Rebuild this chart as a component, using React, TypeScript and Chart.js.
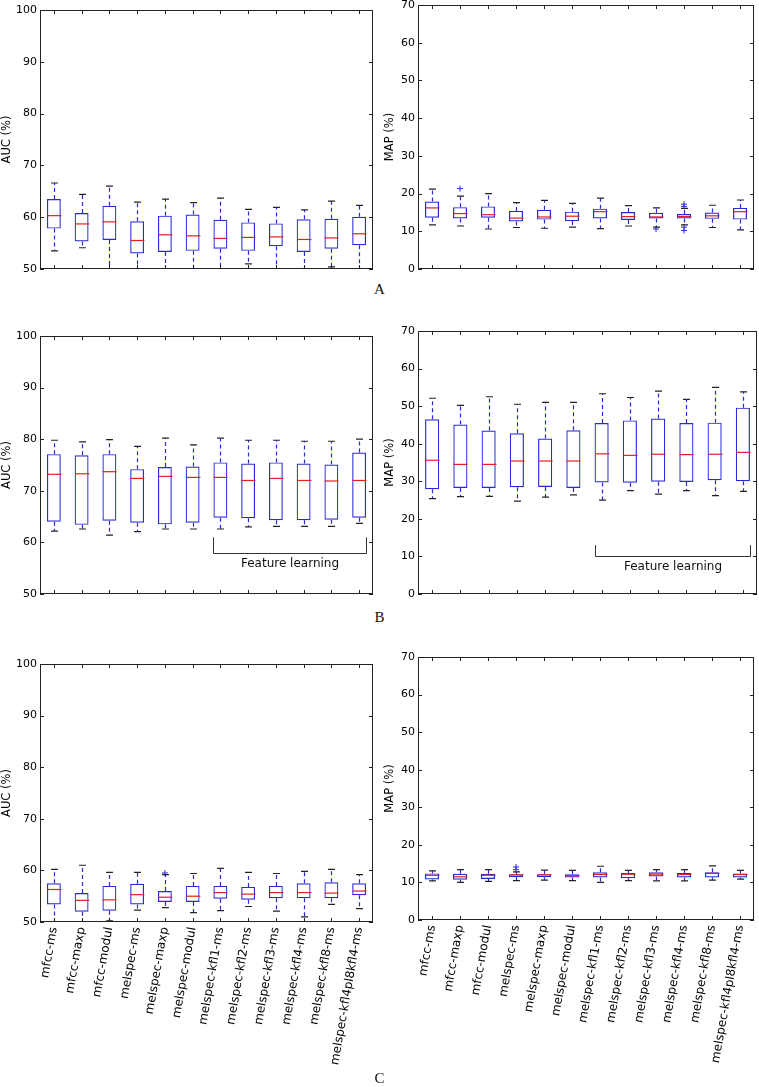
import React, { useEffect, useRef } from 'react';
import { Chart, registerables } from 'chart.js';

Chart.register(...registerables);

// ---------------- data ----------------
const CATEGORIES = [
  'mfcc-ms', 'mfcc-maxp', 'mfcc-modul', 'melspec-ms', 'melspec-maxp', 'melspec-modul',
  'melspec-kfl1-ms', 'melspec-kfl2-ms', 'melspec-kfl3-ms', 'melspec-kfl4-ms', 'melspec-kfl8-ms',
  'melspec-kfl4pl8kfl4-ms',
];

const AUC_TICK_MIN = 50;
const AUC_TICK_MAX = 100;
const MAP_TICK_MIN = 0;
const MAP_TICK_MAX = 70;
const TICK_STEP = 10;

// Panel A – AUC
const A_AUC_LOW = [53.5, 54.1, 49.0, 50.1, 49.0, 49.0, 49.0, 51.0, 50.1, 49.0, 50.4, 49.0];
const A_AUC_Q1 = [57.8, 55.3, 55.6, 53.0, 53.3, 53.5, 53.9, 53.5, 54.4, 53.3, 53.9, 54.6];
const A_AUC_MED = [60.3, 58.7, 59.1, 55.5, 56.6, 56.4, 55.9, 56.1, 56.2, 55.7, 56.0, 56.8];
const A_AUC_Q3 = [63.5, 60.8, 62.2, 59.2, 60.3, 60.5, 59.5, 59.0, 58.8, 59.6, 59.7, 60.1];
const A_AUC_HIGH = [66.6, 64.4, 66.0, 62.9, 63.5, 62.8, 63.7, 61.5, 61.9, 61.4, 63.1, 62.3];
const A_AUC_FLIER_IDX: number[] = [];
const A_AUC_FLIER_VAL: number[] = [];

// Panel A – MAP
const A_MAP_LOW = [11.7, 11.4, 10.6, 11.0, 10.8, 11.1, 10.7, 11.4, 11.1, 11.7, 11.0, 10.4];
const A_MAP_Q1 = [13.6, 13.4, 13.6, 12.6, 13.1, 12.7, 13.4, 13.0, 13.4, 13.4, 13.3, 13.1];
const A_MAP_MED = [16.2, 14.7, 14.4, 13.5, 13.8, 14.0, 15.2, 13.9, 13.8, 13.9, 14.1, 15.2];
const A_MAP_Q3 = [17.9, 16.4, 16.6, 15.4, 15.7, 15.2, 16.0, 15.1, 14.9, 14.6, 15.0, 16.2];
const A_MAP_HIGH = [21.2, 19.3, 20.0, 17.6, 18.2, 17.4, 18.8, 16.8, 16.2, 16.1, 16.9, 18.3];
const A_MAP_FLIER_IDX = [1, 8, 9, 9, 9, 9];
const A_MAP_FLIER_VAL = [21.3, 10.6, 17.2, 16.6, 11.1, 10.2];

// Panel B – AUC
const B_AUC_LOW = [62.2, 62.6, 61.4, 62.1, 62.6, 62.6, 62.6, 63.0, 63.1, 63.1, 63.1, 63.7];
const B_AUC_Q1 = [64.0, 63.4, 64.2, 63.8, 63.5, 63.8, 64.8, 64.7, 64.3, 64.3, 64.4, 64.8];
const B_AUC_MED = [73.2, 73.3, 73.7, 72.4, 72.8, 72.6, 72.6, 72.0, 72.4, 72.0, 71.9, 72.0];
const B_AUC_Q3 = [77.1, 76.9, 77.1, 74.2, 74.6, 74.7, 75.5, 75.3, 75.5, 75.3, 75.1, 77.4];
const B_AUC_HIGH = [79.8, 79.5, 79.9, 78.6, 80.2, 78.9, 80.2, 79.8, 79.8, 79.6, 79.6, 80.0];
const B_AUC_FLIER_IDX: number[] = [];
const B_AUC_FLIER_VAL: number[] = [];

// Panel B – MAP
const B_MAP_LOW = [25.4, 25.9, 26.0, 24.7, 25.8, 26.4, 25.0, 27.5, 26.6, 27.5, 26.2, 27.3];
const B_MAP_Q1 = [27.9, 28.2, 28.2, 28.4, 28.5, 28.2, 29.7, 29.6, 29.9, 29.8, 30.3, 30.0];
const B_MAP_MED = [35.6, 34.5, 34.5, 35.4, 35.4, 35.4, 37.3, 36.9, 37.2, 37.1, 37.2, 37.7];
const B_MAP_Q3 = [46.5, 45.1, 43.5, 42.8, 41.4, 43.6, 45.5, 46.2, 46.7, 45.5, 45.6, 49.6];
const B_MAP_HIGH = [52.1, 50.2, 52.5, 50.5, 51.0, 51.0, 53.3, 52.3, 54.0, 51.8, 55.0, 53.8];
const B_MAP_FLIER_IDX: number[] = [];
const B_MAP_FLIER_VAL: number[] = [];

// Panel C – AUC
const C_AUC_LOW = [49.0, 49.0, 50.2, 52.3, 52.8, 51.8, 52.2, 53.0, 52.1, 51.0, 53.4, 52.6];
const C_AUC_Q1 = [53.4, 52.0, 52.2, 53.4, 53.9, 53.9, 54.5, 54.3, 54.6, 54.6, 54.6, 55.2];
const C_AUC_MED = [56.3, 54.2, 54.3, 55.3, 54.8, 55.0, 55.7, 55.4, 55.7, 55.7, 55.6, 56.0];
const C_AUC_Q3 = [57.5, 55.6, 57.0, 57.4, 56.0, 57.0, 57.0, 56.8, 57.0, 57.5, 57.7, 57.5];
const C_AUC_HIGH = [60.2, 61.0, 59.6, 59.6, 59.2, 59.4, 60.4, 59.6, 59.4, 59.8, 60.2, 59.2];
const C_AUC_FLIER_IDX = [4];
const C_AUC_FLIER_VAL = [59.5];

// Panel C – MAP
const C_MAP_LOW = [10.4, 10.0, 10.3, 10.5, 10.6, 10.5, 10.0, 10.5, 10.4, 10.4, 10.6, 10.9];
const C_MAP_Q1 = [10.8, 10.7, 10.9, 11.4, 11.4, 11.3, 11.3, 11.1, 11.6, 11.3, 11.3, 11.3];
const C_MAP_MED = [11.9, 11.5, 11.9, 12.0, 12.0, 11.8, 12.1, 12.2, 12.2, 12.1, 12.4, 12.1];
const C_MAP_Q3 = [12.4, 12.3, 12.3, 12.2, 12.2, 12.2, 12.7, 12.5, 12.7, 12.5, 12.7, 12.4];
const C_MAP_HIGH = [13.1, 13.4, 13.4, 12.8, 13.3, 13.2, 14.3, 13.2, 13.4, 13.4, 14.4, 13.2];
const C_MAP_FLIER_IDX = [3, 3];
const C_MAP_FLIER_VAL = [13.4, 14.1];

// "Feature learning" bracket (category index units / value units)
const BRACKET_TEXT = 'Feature learning';
const BRACKET_FROM = 5.75;
const BRACKET_TO = 11.25;
const AUC_BRACKET_Y = [61, 58, 55.8]; // top of ends, base line, text centre
const MAP_BRACKET_Y = [13, 10, 7.2];

// ---------------- styling ----------------
const BOX_COLOR = '#2a2ad8';
const MEDIAN_COLOR = '#e02020';
const CAP_COLOR = '#222222';
const FONT_FAMILY = '"DejaVu Sans", sans-serif';

type Stats = {
  low: number[]; q1: number[]; med: number[]; q3: number[]; high: number[];
  flierIdx: number[]; flierVal: number[];
};
type Rect = { left: number; top: number; w: number; h: number };
type Area = { l: number; t: number; r: number; b: number };

interface PanelProps {
  stats: Stats;
  yMin: number;
  yMax: number;
  yTitle: string;
  showLabels: boolean;
  bracketY?: number[];
  box: Rect;
  area: Area;
  titlePad: number;
}

function BoxPanel(props: PanelProps) {
  const ref = useRef<HTMLCanvasElement>(null);
  const { stats, yMin, yMax, yTitle, showLabels, bracketY, box, area, titlePad } = props;

  useEffect(() => {
    const canvas = ref.current;
    if (!canvas) return;
    const padTop = area.t - box.top;
    const padRight = box.left + box.w - area.r;
    const yAxisW = area.l - box.left;
    const xAxisH = box.top + box.h - area.b;

    const extras = {
      id: 'boxExtras',
      afterDatasetsDraw(chart: any) {
        const ctx = chart.ctx as CanvasRenderingContext2D;
        const ys = chart.scales.y;
        const meta = chart.getDatasetMeta(0);
        const ca = chart.chartArea;
        ctx.save();
        ctx.beginPath();
        ctx.rect(ca.left, ca.top, ca.right - ca.left, ca.bottom - ca.top);
        ctx.clip();
        ctx.lineWidth = 1.2;
        for (let i = 0; i < stats.q1.length; i++) {
          const bar = meta.data[i];
          const x = Math.round(bar.x) + 0.5;
          const w = bar.width;
          const pHigh = ys.getPixelForValue(stats.high[i]);
          const pLow = ys.getPixelForValue(stats.low[i]);
          const pQ1 = ys.getPixelForValue(stats.q1[i]);
          const pQ3 = ys.getPixelForValue(stats.q3[i]);
          const pMed = ys.getPixelForValue(stats.med[i]);
          // whiskers
          ctx.setLineDash([4, 3]);
          ctx.strokeStyle = BOX_COLOR;
          ctx.beginPath();
          ctx.moveTo(x, pQ3);
          ctx.lineTo(x, pHigh);
          ctx.moveTo(x, pQ1);
          ctx.lineTo(x, pLow);
          ctx.stroke();
          // caps
          ctx.setLineDash([]);
          ctx.strokeStyle = CAP_COLOR;
          ctx.beginPath();
          ctx.moveTo(x - w / 4, pHigh);
          ctx.lineTo(x + w / 4, pHigh);
          ctx.moveTo(x - w / 4, pLow);
          ctx.lineTo(x + w / 4, pLow);
          ctx.stroke();
          // median
          ctx.strokeStyle = MEDIAN_COLOR;
          ctx.beginPath();
          ctx.moveTo(x - w / 2, pMed);
          ctx.lineTo(x + w / 2, pMed);
          ctx.stroke();
        }
        ctx.restore();
      },
      afterDraw(chart: any) {
        const ctx = chart.ctx as CanvasRenderingContext2D;
        const xs = chart.scales.x;
        const ys = chart.scales.y;
        const ca = chart.chartArea;
        ctx.save();
        ctx.lineWidth = 1;
        ctx.strokeStyle = '#222';
        ctx.strokeRect(ca.left + 0.5, ca.top + 0.5, ca.right - ca.left - 1, ca.bottom - ca.top - 1);
        ctx.beginPath();
        for (const t of ys.ticks) {
          const py = Math.round(ys.getPixelForValue(t.value)) + 0.5;
          ctx.moveTo(ca.left, py);
          ctx.lineTo(ca.left + 4, py);
          ctx.moveTo(ca.right - 4, py);
          ctx.lineTo(ca.right, py);
        }
        for (let i = 0; i < CATEGORIES.length; i++) {
          const px = Math.round(xs.getPixelForValue(i)) + 0.5;
          ctx.moveTo(px, ca.bottom);
          ctx.lineTo(px, ca.bottom - 4);
          ctx.moveTo(px, ca.top);
          ctx.lineTo(px, ca.top + 4);
        }
        ctx.stroke();
        if (bracketY) {
          const x1 = Math.round(xs.getPixelForValue(BRACKET_FROM)) + 0.5;
          const x2 = Math.round(xs.getPixelForValue(BRACKET_TO)) + 0.5;
          const yTop = ys.getPixelForValue(bracketY[0]);
          const yBase = Math.round(ys.getPixelForValue(bracketY[1])) + 0.5;
          const yText = ys.getPixelForValue(bracketY[2]);
          ctx.strokeStyle = '#333';
          ctx.beginPath();
          ctx.moveTo(x1, yTop);
          ctx.lineTo(x1, yBase);
          ctx.lineTo(x2, yBase);
          ctx.lineTo(x2, yTop);
          ctx.stroke();
          ctx.fillStyle = '#111';
          ctx.font = `12px ${FONT_FAMILY}`;
          ctx.textAlign = 'center';
          ctx.textBaseline = 'middle';
          ctx.fillText(BRACKET_TEXT, (x1 + x2) / 2, yText);
        }
        ctx.restore();
      },
    };

    const font = { family: FONT_FAMILY, size: 11 };
    const labelFont = { family: FONT_FAMILY, size: 12 };
    const chart = new Chart(canvas, {
      type: 'bar',
      data: {
        labels: CATEGORIES,
        datasets: [
          {
            type: 'bar',
            data: stats.q1.map((v, i) => [v, stats.q3[i]]) as any,
            backgroundColor: 'rgba(255,255,255,0)',
            borderColor: BOX_COLOR,
            borderWidth: 1.2,
            borderSkipped: false,
            barPercentage: 0.5,
            categoryPercentage: 1,
            order: 2,
          },
          {
            type: 'line',
            data: stats.flierIdx.map((c, k) => ({ x: CATEGORIES[c], y: stats.flierVal[k] })) as any,
            showLine: false,
            pointStyle: 'cross',
            pointRadius: 3,
            borderColor: BOX_COLOR,
            backgroundColor: BOX_COLOR,
            borderWidth: 1,
            order: 1,
          } as any,
        ],
      },
      options: {
        responsive: false,
        animation: false,
        events: [],
        layout: { padding: { left: 0, top: padTop, right: padRight, bottom: 0 } },
        plugins: { legend: { display: false }, tooltip: { enabled: false } },
        scales: {
          x: {
            type: 'category',
            offset: true,
            grid: { display: false, drawTicks: false },
            border: { display: false },
            ticks: {
              display: showLabels,
              autoSkip: false,
              minRotation: 80,
              maxRotation: 80,
              padding: 4,
              color: '#000',
              font: labelFont,
            },
            afterFit(s: any) {
              s.height = xAxisH;
              s.paddingLeft = 0;
              s.paddingRight = 0;
            },
          },
          y: {
            min: yMin,
            max: yMax,
            grid: { display: false, drawTicks: false },
            border: { display: false },
            ticks: { stepSize: TICK_STEP, padding: 3, color: '#000', font },
            title: {
              display: true,
              text: yTitle,
              color: '#000',
              font: { family: FONT_FAMILY, size: 11.5 },
              padding: { top: titlePad, bottom: 0 },
            },
            afterFit(s: any) {
              s.width = yAxisW;
              s.paddingTop = 0;
              s.paddingBottom = 0;
            },
          },
        },
      } as any,
      plugins: [extras],
    });
    return () => chart.destroy();
  }, []);

  return (
    <canvas
      ref={ref}
      width={box.w}
      height={box.h}
      style={{ position: 'absolute', left: box.left, top: box.top, width: box.w, height: box.h }}
    />
  );
}

const mk = (low: number[], q1: number[], med: number[], q3: number[], high: number[], fi: number[], fv: number[]): Stats =>
  ({ low, q1, med, q3, high, flierIdx: fi, flierVal: fv });

const labelStyle = (top: number): React.CSSProperties => ({
  position: 'absolute',
  left: 0,
  width: 759,
  top,
  height: 18,
  lineHeight: '18px',
  textAlign: 'center',
  fontFamily: '"Liberation Serif", serif',
  fontSize: 15,
  color: '#111',
});

export default function App() {
  return (
    <div style={{ position: 'absolute', left: 0, top: 0, width: 759, height: 1087, background: '#fff', overflow: 'hidden' }}>
      <BoxPanel
        stats={mk(A_AUC_LOW, A_AUC_Q1, A_AUC_MED, A_AUC_Q3, A_AUC_HIGH, A_AUC_FLIER_IDX, A_AUC_FLIER_VAL)}
        yMin={AUC_TICK_MIN} yMax={AUC_TICK_MAX} yTitle="AUC (%)" showLabels={false}
        box={{ left: 0, top: 0, w: 380, h: 280 }} area={{ l: 40, t: 10, r: 373, b: 269 }} titlePad={0}
      />
      <BoxPanel
        stats={mk(A_MAP_LOW, A_MAP_Q1, A_MAP_MED, A_MAP_Q3, A_MAP_HIGH, A_MAP_FLIER_IDX, A_MAP_FLIER_VAL)}
        yMin={MAP_TICK_MIN} yMax={MAP_TICK_MAX} yTitle="MAP (%)" showLabels={false}
        box={{ left: 380, top: 0, w: 379, h: 280 }} area={{ l: 418, t: 5, r: 757, b: 269 }} titlePad={3}
      />
      <div style={labelStyle(280)}>A</div>
      <BoxPanel
        stats={mk(B_AUC_LOW, B_AUC_Q1, B_AUC_MED, B_AUC_Q3, B_AUC_HIGH, B_AUC_FLIER_IDX, B_AUC_FLIER_VAL)}
        yMin={AUC_TICK_MIN} yMax={AUC_TICK_MAX} yTitle="AUC (%)" showLabels={false} bracketY={AUC_BRACKET_Y}
        box={{ left: 0, top: 300, w: 380, h: 300 }} area={{ l: 40, t: 336, r: 373, b: 594 }} titlePad={0}
      />
      <BoxPanel
        stats={mk(B_MAP_LOW, B_MAP_Q1, B_MAP_MED, B_MAP_Q3, B_MAP_HIGH, B_MAP_FLIER_IDX, B_MAP_FLIER_VAL)}
        yMin={MAP_TICK_MIN} yMax={MAP_TICK_MAX} yTitle="MAP (%)" showLabels={false} bracketY={MAP_BRACKET_Y}
        box={{ left: 380, top: 300, w: 379, h: 300 }} area={{ l: 418, t: 331, r: 757, b: 594 }} titlePad={3}
      />
      <div style={labelStyle(608)}>B</div>
      <BoxPanel
        stats={mk(C_AUC_LOW, C_AUC_Q1, C_AUC_MED, C_AUC_Q3, C_AUC_HIGH, C_AUC_FLIER_IDX, C_AUC_FLIER_VAL)}
        yMin={AUC_TICK_MIN} yMax={AUC_TICK_MAX} yTitle="AUC (%)" showLabels={true}
        box={{ left: 0, top: 630, w: 380, h: 440 }} area={{ l: 40, t: 664, r: 373, b: 922 }} titlePad={0}
      />
      <BoxPanel
        stats={mk(C_MAP_LOW, C_MAP_Q1, C_MAP_MED, C_MAP_Q3, C_MAP_HIGH, C_MAP_FLIER_IDX, C_MAP_FLIER_VAL)}
        yMin={MAP_TICK_MIN} yMax={MAP_TICK_MAX} yTitle="MAP (%)" showLabels={true}
        box={{ left: 380, top: 630, w: 379, h: 440 }} area={{ l: 418, t: 657, r: 757, b: 920 }} titlePad={3}
      />
      <div style={labelStyle(1069)}>C</div>
    </div>
  );
}
